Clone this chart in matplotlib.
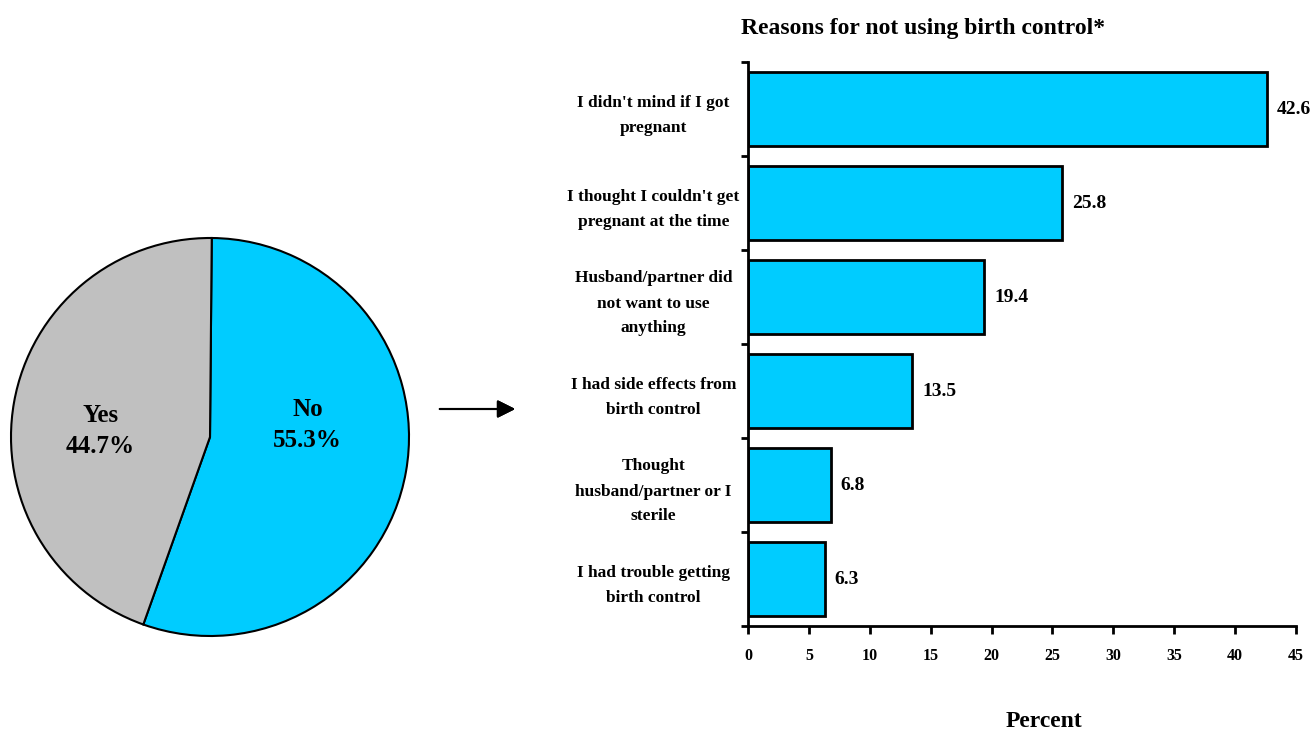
import numpy as np
import matplotlib.pyplot as plt

# Data
pie_labels = ["No", "Yes"]
pie_values = [55.3, 44.7]
pie_colors = ["#00CCFF", "#C0C0C0"]

reasons = [
    "I didn't mind if I got\npregnant",
    "I thought I couldn't get\npregnant at the time",
    "Husband/partner did\nnot want to use\nanything",
    "I had side effects from\nbirth control",
    "Thought\nhusband/partner or I\nsterile",
    "I had trouble getting\nbirth control",
]
percents = [42.6, 25.8, 19.4, 13.5, 6.8, 6.3]
x_ticks = [0, 5, 10, 15, 20, 25, 30, 35, 40, 45]

plt.rcParams['font.family'] = ['Liberation Serif', 'DejaVu Serif']
plt.rcParams['font.weight'] = 'bold'

fig = plt.figure(figsize=(13.15, 7.33), dpi=100)

# Pie chart
ax_pie = fig.add_axes([10 / 1315, 1 - 637 / 733, 400 / 1315, 400 / 733])
ax_pie.pie(pie_values, colors=pie_colors, startangle=89.5, counterclock=False,
           wedgeprops=dict(edgecolor="black", linewidth=1.5))
ax_pie.set_xlim(-1.005, 1.005)
ax_pie.set_ylim(-1.005, 1.005)
ax_pie.set_aspect("equal")
ax_pie.text(0.49, 0.06, f"{pie_labels[0]}\n{pie_values[0]}%", ha="center", va="center",
            fontsize=18, fontweight="bold", linespacing=1.45)
ax_pie.text(-0.55, 0.03, f"{pie_labels[1]}\n{pie_values[1]}%", ha="center", va="center",
            fontsize=18, fontweight="bold", linespacing=1.45)

# Arrow between charts
fig.add_artist(plt.annotate("", xy=(518 / 1315, 1 - 409 / 733), xytext=(437 / 1315, 1 - 409 / 733),
                            xycoords="figure fraction", textcoords="figure fraction",
                            arrowprops=dict(arrowstyle="-|>", color="black", lw=1.5,
                                            mutation_scale=27)))

# Bar chart
ax = fig.add_axes([748 / 1315, 1 - 626 / 733, (1296 - 748) / 1315, (626 - 62) / 733])
y = np.arange(len(reasons))
bars = ax.barh(y, percents, height=0.78, color="#00CCFF", edgecolor="black", linewidth=2)
ax.set_ylim(len(reasons) - 0.5, -0.5)
ax.set_xlim(0, 45)

for b, v in zip(bars, percents):
    ax.text(v + 0.8, b.get_y() + b.get_height() / 2, f"{v}", va="center", ha="left",
            fontsize=14, fontweight="bold")

ax.spines["top"].set_visible(False)
ax.spines["right"].set_visible(False)
ax.spines["left"].set_linewidth(2)
ax.spines["bottom"].set_linewidth(2)

ax.set_xticks(x_ticks)
ax.set_xticklabels([str(t) for t in x_ticks], fontsize=11.5, fontweight="bold")
ax.tick_params(axis="x", length=6, width=2, pad=10)

ax.set_yticks(np.arange(len(reasons) + 1) - 0.5)
ax.set_yticklabels([])
ax.tick_params(axis="y", which="major", length=5, width=2)
ax.set_yticks(y, minor=True)
ax.set_yticklabels(reasons, minor=True, fontsize=12.5, fontweight="bold", ha="center",
                   linespacing=1.75)
ax.tick_params(axis="y", which="minor", length=0, pad=68)

ax.set_xlabel("Percent", fontsize=17, fontweight="bold")
ax.xaxis.set_label_coords(0.54, -0.15)
ax.set_title("Reasons for not using birth control*", fontsize=17, fontweight="bold",
             loc="left", x=-0.012, pad=20)

fig.savefig("out.png", dpi=100)
